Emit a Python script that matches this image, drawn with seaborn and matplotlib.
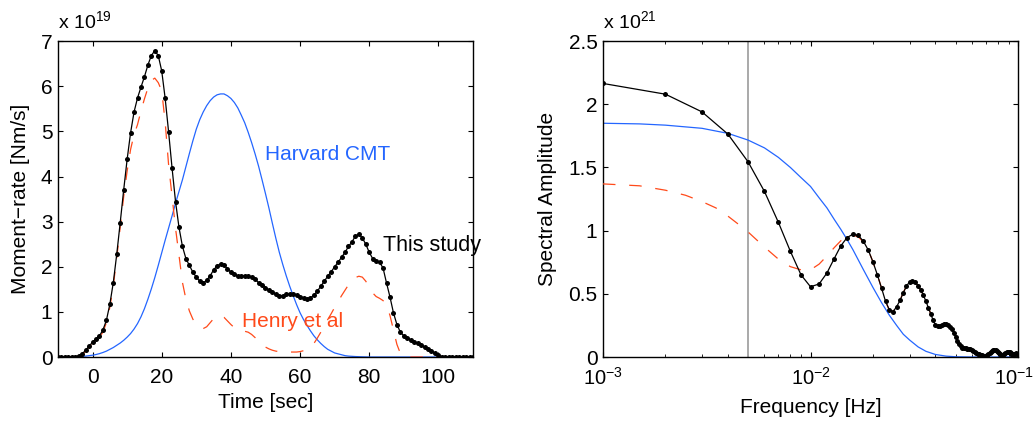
import numpy as np
import pandas as pd
import matplotlib
matplotlib.use("Agg")
import matplotlib.pyplot as plt
import matplotlib.transforms as mtransforms
import seaborn as sns
from matplotlib.ticker import LogLocator, NullFormatter, FixedLocator, FixedFormatter

# ---------------- data (left: moment-rate, units of 1e19 Nm/s) ----------------
time_sec = list(range(-10, 111))  # 1-s sampling

this_study_rate = [
    0, 0, 0, 0, 0, 0.01, 0.03, 0.07, 0.15, 0.24,            # -10..-1
    0.33, 0.40, 0.47, 0.60, 0.81, 1.17, 1.65, 2.28, 2.98, 3.70,   # 0..9
    4.38, 4.97, 5.43, 5.74, 5.98, 6.21, 6.47, 6.68, 6.79, 6.68,   # 10..19
    6.34, 5.73, 4.98, 4.18, 3.44, 2.87, 2.45, 2.18, 2.03, 1.88,   # 20..29
    1.77, 1.68, 1.64, 1.70, 1.80, 1.93, 2.02, 2.06, 2.03, 1.96,   # 30..39
    1.88, 1.83, 1.80, 1.79, 1.80, 1.80, 1.77, 1.72, 1.65, 1.59,   # 40..49
    1.54, 1.48, 1.43, 1.39, 1.36, 1.36, 1.39, 1.40, 1.40, 1.38,   # 50..59
    1.34, 1.31, 1.29, 1.31, 1.37, 1.46, 1.57, 1.68, 1.79, 1.89,   # 60..69
    2.00, 2.10, 2.21, 2.32, 2.45, 2.55, 2.68, 2.72, 2.64, 2.50,   # 70..79
    2.32, 2.18, 2.13, 2.10, 1.97, 1.64, 1.33, 0.98, 0.72, 0.55,   # 80..89
    0.47, 0.42, 0.38, 0.33, 0.30, 0.26, 0.22, 0.17, 0.13, 0.09,   # 90..99
    0.05, 0.01, 0, 0, 0, 0, 0, 0, 0, 0, 0,                        # 100..110
]

henry_rate = [
    0, 0, 0, 0, 0, 0, 0, 0.05, 0.13, 0.22,                       # -10..-1
    0.31, 0.37, 0.44, 0.55, 0.76, 1.10, 1.58, 2.20, 2.88, 3.55,   # 0..9
    4.12, 4.60, 4.93, 5.15, 5.45, 5.72, 5.96, 6.13, 6.18, 6.08,   # 10..19
    5.90, 5.20, 4.25, 3.55, 2.85, 2.25, 1.65, 1.28, 1.02, 0.84,   # 20..29
    0.72, 0.65, 0.63, 0.67, 0.76, 0.85, 0.91, 0.92, 0.88, 0.80,   # 30..39
    0.72, 0.65, 0.60, 0.58, 0.57, 0.55, 0.50, 0.43, 0.35, 0.28,   # 40..49
    0.22, 0.18, 0.15, 0.13, 0.12, 0.11, 0.11, 0.11, 0.11, 0.11,   # 50..59
    0.12, 0.14, 0.17, 0.22, 0.30, 0.42, 0.55, 0.69, 0.83, 0.96,   # 60..69
    1.10, 1.23, 1.36, 1.48, 1.60, 1.70, 1.76, 1.79, 1.77, 1.68,   # 70..79
    1.55, 1.42, 1.34, 1.30, 1.25, 1.15, 0.92, 0.60, 0.28, 0.08,   # 80..89
    0.02, 0, 0, 0, 0, 0, 0, 0, 0, 0,                              # 90..99
    0, 0, 0, 0, 0, 0, 0, 0, 0, 0, 0,                              # 100..110
]

harvard_rate = [
    0, 0, 0, 0, 0, 0.005, 0.01, 0.015, 0.02, 0.03,               # -10..-1
    0.04, 0.055, 0.075, 0.10, 0.13, 0.17, 0.21, 0.26, 0.31, 0.37,  # 0..9
    0.44, 0.52, 0.62, 0.74, 0.89, 1.07, 1.28, 1.51, 1.76, 2.03,   # 10..19
    2.31, 2.59, 2.86, 3.13, 3.41, 3.67, 3.93, 4.22, 4.51, 4.79,   # 20..29
    5.05, 5.26, 5.43, 5.57, 5.68, 5.76, 5.81, 5.83, 5.83, 5.79,   # 30..39
    5.73, 5.64, 5.52, 5.36, 5.19, 4.98, 4.75, 4.50, 4.23, 3.93,   # 40..49
    3.62, 3.30, 2.96, 2.63, 2.32, 2.05, 1.80, 1.57, 1.36, 1.16,   # 50..59
    0.98, 0.83, 0.70, 0.58, 0.47, 0.38, 0.30, 0.23, 0.17, 0.13,   # 60..69
    0.09, 0.07, 0.05, 0.03, 0.02, 0.015, 0.01, 0.007, 0.004, 0.002,  # 70..79
    0, 0, 0, 0, 0, 0, 0, 0, 0, 0,                                 # 80..89
    0, 0, 0, 0, 0, 0, 0, 0, 0, 0,                                 # 90..99
    0, 0, 0, 0, 0, 0, 0, 0, 0, 0, 0,                              # 100..110
]

# ---------------- data (right: spectra, units of 1e21) ----------------
freq_this = [k / 1000 for k in range(1, 101)]
spec_this = [
    2.165, 2.08, 1.94, 1.764, 1.545, 1.31, 1.066, 0.836, 0.65, 0.556,      # 1-10
    0.578, 0.665, 0.778, 0.88, 0.945, 0.972, 0.962, 0.915, 0.845, 0.752,   # 11-20
    0.65, 0.545, 0.44, 0.372, 0.36, 0.398, 0.448, 0.51, 0.56, 0.596,       # 21-30
    0.601, 0.59, 0.565, 0.53, 0.49, 0.44, 0.39, 0.34, 0.29, 0.255,         # 31-40
    0.242, 0.245, 0.252, 0.258, 0.258, 0.252, 0.24, 0.22, 0.19, 0.16,      # 41-50
    0.13, 0.105, 0.085, 0.075, 0.07, 0.068, 0.066, 0.063, 0.06, 0.055,     # 51-60
    0.05, 0.043, 0.035, 0.027, 0.02, 0.015, 0.012, 0.01, 0.01, 0.01,       # 61-70
    0.013, 0.02, 0.03, 0.04, 0.047, 0.052, 0.054, 0.053, 0.048, 0.04,      # 71-80
    0.03, 0.02, 0.015, 0.013, 0.015, 0.022, 0.03, 0.036, 0.04, 0.04,       # 81-90
    0.038, 0.033, 0.027, 0.022, 0.02, 0.022, 0.027, 0.03, 0.027, 0.022,    # 91-100
]

freq_harvard = [0.001, 0.0015, 0.002, 0.003, 0.004, 0.005, 0.006, 0.007, 0.008,
                0.009, 0.010, 0.011, 0.012, 0.013, 0.014, 0.015, 0.016, 0.018,
                0.020, 0.022, 0.024, 0.026, 0.028, 0.030, 0.033, 0.036, 0.040,
                0.045, 0.050, 0.060, 0.080, 0.100]
spec_harvard = [1.850, 1.845, 1.835, 1.81, 1.77, 1.717, 1.655, 1.58, 1.50,
                1.42, 1.35, 1.26, 1.18, 1.09, 1.01, 0.93, 0.85, 0.69,
                0.55, 0.43, 0.33, 0.25, 0.18, 0.135, 0.08, 0.045, 0.02,
                0.007, 0.002, 0.0, 0.0, 0.0]

freq_henry = [0.001, 0.0015, 0.002, 0.0025, 0.003, 0.0035, 0.004, 0.0045, 0.005,
              0.006, 0.007, 0.008, 0.009, 0.010, 0.011, 0.012, 0.013, 0.014,
              0.015, 0.016, 0.017, 0.018, 0.019, 0.020, 0.021, 0.022, 0.023,
              0.024, 0.025, 0.026, 0.027, 0.028, 0.029, 0.030, 0.031, 0.032,
              0.033, 0.034, 0.035, 0.036, 0.037, 0.038]
spec_henry = [1.37, 1.355, 1.32, 1.28, 1.23, 1.18, 1.115, 1.05, 0.99,
              0.87, 0.775, 0.715, 0.69, 0.69, 0.735, 0.80, 0.865, 0.92,
              0.955, 0.965, 0.95, 0.91, 0.845, 0.752, 0.65, 0.545, 0.44,
              0.372, 0.36, 0.398, 0.45, 0.51, 0.56, 0.595, 0.60, 0.59,
              0.565, 0.53, 0.49, 0.44, 0.39, 0.34]

cutoff_freq = 0.005
left_yticks = [0, 1, 2, 3, 4, 5, 6, 7]
left_xticks = [0, 20, 40, 60, 80, 100]
right_xticks = [1e-3, 1e-2, 1e-1]
right_xticklabels = [r"$\mathregular{10^{-3}}$", r"$\mathregular{10^{-2}}$",
                     r"$\mathregular{10^{-1}}$"]
right_yticks = [0, 0.5, 1, 1.5, 2, 2.5]
right_yticklabels = ["0", "0.5", "1", "1.5", "2", "2.5"]

# ---------------- styling ----------------
sns.set_theme(style="white")
FS = 15
plt.rcParams.update({
    "font.family": ["Liberation Sans", "DejaVu Sans"],
    "mathtext.fontset": "custom",
    "mathtext.rm": "Liberation Sans",
    "mathtext.it": "Liberation Sans:italic",
    "mathtext.bf": "Liberation Sans:bold",
    "axes.edgecolor": "black",
    "axes.linewidth": 1.0,
    "xtick.direction": "in", "ytick.direction": "in",
    "xtick.top": True, "ytick.right": True,
    "xtick.bottom": True, "ytick.left": True,
    "xtick.color": "black", "ytick.color": "black",
    "xtick.major.size": 3.5, "ytick.major.size": 3.5,
    "xtick.minor.size": 2.0, "ytick.minor.size": 2.0,
    "xtick.major.width": 0.8, "ytick.major.width": 0.8,
    "xtick.minor.width": 0.6,
    "xtick.labelsize": FS, "ytick.labelsize": FS,
    "axes.labelsize": FS, "text.color": "black", "axes.labelcolor": "black",
})

BLUE = "#2466ff"
RED = "#ff4a1a"
DASH = (0, (10, 11))

fig = plt.figure(figsize=(10.35, 4.24), dpi=100)
ax1 = fig.add_axes([0.056, 0.158, 0.401, 0.745])
ax2 = fig.add_axes([0.5826, 0.158, 0.401, 0.745])

left_df = pd.DataFrame({"t": time_sec, "this": this_study_rate,
                        "henry": henry_rate, "harvard": harvard_rate})

sns.lineplot(data=left_df, x="t", y="harvard", ax=ax1, color=BLUE, lw=0.9,
             estimator=None, sort=False, zorder=2)
sns.lineplot(data=left_df, x="t", y="henry", ax=ax1, color=RED, lw=0.9,
             linestyle=DASH, estimator=None, sort=False, zorder=3)
sns.lineplot(data=left_df, x="t", y="this", ax=ax1, color="black", lw=0.9,
             marker="o", markersize=3.6, markeredgewidth=0, estimator=None,
             sort=False, zorder=4)

ax1.set_xlim(-10, 110)
ax1.set_ylim(0, 7)
ax1.xaxis.set_major_locator(FixedLocator(left_xticks))
ax1.yaxis.set_major_locator(FixedLocator(left_yticks))
ax1.set_xlabel("Time [sec]")
ax1.set_ylabel("Moment\u2212rate [Nm/s]")
ax1.xaxis.set_label_coords(0.5, -0.115)
ax1.yaxis.set_label_coords(-0.068, 0.5)
ax1.tick_params(axis="y", pad=4)
ax1.tick_params(axis="x", pad=8)
ax1.text(0.0, 1.03, r"x 10$^{19}$", transform=ax1.transAxes, ha="left",
         va="bottom", fontsize=14)

ax1.text(49.8, 4.48, "Harvard CMT", color=BLUE, fontsize=15, va="center", ha="left")
ax1.text(84.0, 2.48, "This study", color="black", fontsize=15.5, va="center",
         ha="left", clip_on=False)
ax1.text(43.2, 0.78, "Henry et al", color=RED, fontsize=15, va="center", ha="left")

# right panel
ax2.set_xscale("log")
ax2.axvline(cutoff_freq, color="#a9a9a9", lw=1.4, zorder=1)
sns.lineplot(x=freq_harvard, y=spec_harvard, ax=ax2, color=BLUE, lw=0.9,
             estimator=None, sort=False, zorder=2)
sns.lineplot(x=freq_henry, y=spec_henry, ax=ax2, color=RED, lw=0.9,
             linestyle=DASH, estimator=None, sort=False, zorder=3)
sns.lineplot(x=freq_this, y=spec_this, ax=ax2, color="black", lw=0.9,
             marker="o", markersize=3.6, markeredgewidth=0, estimator=None,
             sort=False, zorder=4)
ax2.set_xlim(1e-3, 1e-1)
ax2.set_ylim(0, 2.5)
ax2.xaxis.set_major_locator(FixedLocator(right_xticks))
ax2.xaxis.set_major_formatter(FixedFormatter(right_xticklabels))
ax2.xaxis.set_minor_locator(LogLocator(base=10, subs=np.arange(2, 10), numticks=20))
ax2.xaxis.set_minor_formatter(NullFormatter())
ax2.yaxis.set_major_locator(FixedLocator(right_yticks))
ax2.yaxis.set_major_formatter(FixedFormatter(right_yticklabels))
ax2.set_xlabel("Frequency [Hz]")
ax2.set_ylabel("Spectral Amplitude")
ax2.xaxis.set_label_coords(0.5, -0.13)
ax2.yaxis.set_label_coords(-0.11, 0.5)
ax2.tick_params(axis="y", pad=4)
ax2.tick_params(axis="x", which="major", pad=7, labelsize=14.5)
ax2.text(0.0, 1.03, r"x 10$^{21}$", transform=ax2.transAxes, ha="left",
         va="bottom", fontsize=14)

for ax in (ax1, ax2):
    for s in ax.spines.values():
        s.set_color("black")
        s.set_linewidth(1.0)

# keep the last log tick label inside the canvas
fig.canvas.draw()
last = ax2.get_xticklabels()[-1]
last.set_transform(last.get_transform() +
                   mtransforms.ScaledTranslation(-3 / 72, 0, fig.dpi_scale_trans))

fig.savefig("out.png", dpi=100)
